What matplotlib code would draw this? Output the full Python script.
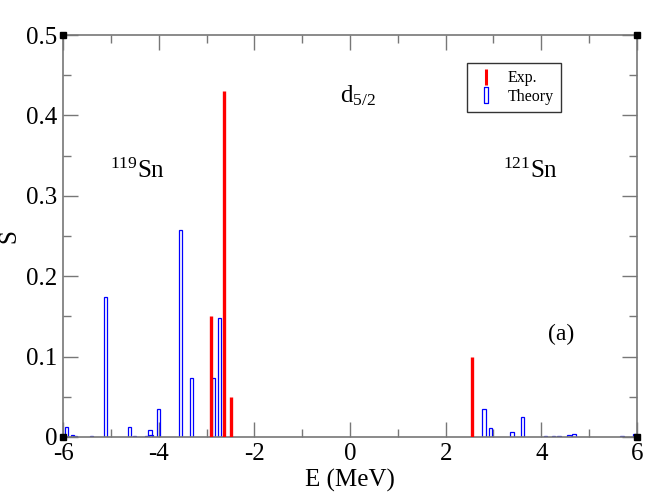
import numpy as np
import matplotlib.pyplot as plt
from matplotlib.lines import Line2D
from matplotlib.path import Path

plt.rcParams['font.family'] = ['Liberation Serif', 'DejaVu Serif']
plt.rcParams['mathtext.fontset'] = 'custom'
plt.rcParams['mathtext.rm'] = 'Liberation Serif'
plt.rcParams['mathtext.it'] = 'Liberation Serif'
plt.rcParams['axes.unicode_minus'] = False

# experiment (red lines)
E_exp = [-2.90, -2.64, -2.49, 2.56]
S_exp = [0.150, 0.430, 0.050, 0.100]

# theory (blue open bars)
E_th = [-5.93, -5.80, -5.75, -5.41, -5.11, -4.61, -4.50, -4.25, -4.18, -4.16,
        -4.00, -3.54, -3.31, -2.85, -2.73,
        2.80, 2.94, 3.39, 3.61, 4.09, 4.25, 4.37, 4.58, 4.68, 5.69, 5.95]
S_th = [0.012, 0.002, 0.001, 0.001, 0.174, 0.012, 0.001, 0.001, 0.009, 0.003,
        0.035, 0.258, 0.073, 0.074, 0.148,
        0.035, 0.011, 0.006, 0.025, 0.001, 0.001, 0.001, 0.002, 0.004, 0.001, 0.004]

fig = plt.figure(figsize=(6.64, 4.98), dpi=100)
ax = fig.add_axes([0.0949, 0.1225, 0.8644, 0.8072])

ax.bar(E_th, S_th, width=0.07, fill=False, edgecolor='#0000ff', linewidth=0.9, zorder=2)
ax.vlines(E_exp, 0, S_exp, colors='#ff0000', linewidth=2.4, zorder=3)

# little black squares on the frame corners
ax.plot([0, 0, 1, 1], [0, 1, 1, 0], 's', color='black', markersize=4,
        transform=ax.transAxes, clip_on=False, zorder=5)

ax.set_xlim(-6, 6)
ax.set_ylim(0, 0.5)
ax.set_xticks(np.arange(-6, 7, 2))
ax.set_xticks(np.arange(-5, 6, 2), minor=True)
ax.set_yticks([0, 0.1, 0.2, 0.3, 0.4, 0.5])
ax.set_yticklabels(['0', '0.1', '0.2', '0.3', '0.4', '0.5'])
ax.set_yticks(np.arange(0.05, 0.5, 0.1), minor=True)
ax.tick_params(which='both', direction='in', top=True, right=True, color='#777777',
               labelsize=18, pad=4)
ax.tick_params(which='major', length=11, width=1)
ax.tick_params(which='minor', length=6, width=1)
for s in ax.spines.values():
    s.set_color('#777777')
    s.set_linewidth(1.2)

ax.set_xlabel('E (MeV)', fontsize=18, labelpad=3)
ax.set_ylabel('S', fontsize=18, labelpad=4)

ax.text(-0.2, 0.425, r'd$_{5/2}$', fontsize=18, va='center')
ax.text(-5.02, 0.322, r'$^{119}$Sn', fontsize=18, va='baseline')
ax.text(3.2, 0.322, r'$^{121}$Sn', fontsize=18, va='baseline')
ax.text(4.15, 0.128, '(a)', fontsize=17, va='center')

rect = Path([(-0.3, -1), (0.3, -1), (0.3, 1), (-0.3, 1), (-0.3, -1)])
handles = [
    Line2D([], [], linestyle='none', marker='|', color='#ff0000', markersize=11, markeredgewidth=2.2),
    Line2D([], [], linestyle='none', marker=rect, markerfacecolor='none',
           markeredgecolor='#0000ff', markersize=11, markeredgewidth=0.9),
]
leg = ax.legend(handles, ['Exp.', 'Theory'], loc='upper left',
                bbox_to_anchor=(0.703, 0.873), bbox_transform=fig.transFigure,
                borderaxespad=0, fontsize=11.5, fancybox=False, framealpha=1,
                edgecolor='#333333', handlelength=1.5, borderpad=0.45,
                labelspacing=0.15, handletextpad=0.6)
leg.get_frame().set_linewidth(1)

fig.savefig('out.png', dpi=100)
